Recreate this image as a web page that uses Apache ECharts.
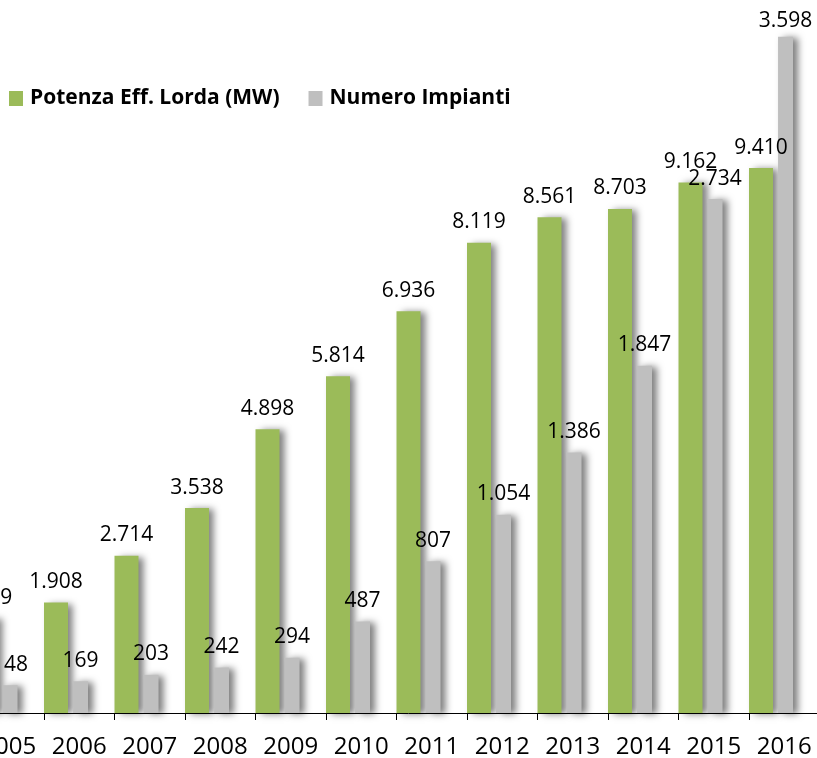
<!DOCTYPE html>
<html>
<head>
<meta charset="utf-8">
<script src="https://cdn.jsdelivr.net/npm/echarts@6/dist/echarts.min.js"></script>
<style>
  html, body { margin: 0; padding: 0; background: #fff; }
  #chart { width: 817px; height: 758px; }
</style>
</head>
<body>
<div id="chart"></div>
<script>
const years = ['2005', '2006', '2007', '2008', '2009', '2010', '2011', '2012', '2013', '2014', '2015', '2016']
const potenza = [1639, 1908, 2714, 3538, 4898, 5814, 6936, 8119, 8561, 8703, 9162, 9410]
const impianti = [148, 169, 203, 242, 294, 487, 807, 1054, 1386, 1847, 2734, 3598]
const seriesNames = ['Potenza Eff. Lorda (MW)', 'Numero Impianti']

const chart = echarts.init(document.getElementById('chart'))

// separatore delle migliaia con il punto
const fmt = (v) => String(v).replace(/\B(?=(\d{3})+(?!\d))/g, '.')

const labelStyle = {
  show: true,
  position: 'top',
  distance: 10,
  fontFamily: 'Open Sans',
  fontSize: 21,
  color: '#000',
  formatter: (p) => fmt(p.value)
}

const shadow = {
  shadowColor: 'rgba(0,0,0,0.5)',
  shadowBlur: 7,
  shadowOffsetX: 5,
  shadowOffsetY: 1
}

const option = {
  animation: false,
  backgroundColor: '#fff',
  textStyle: { fontFamily: 'Open Sans' },
  legend: {
    data: seriesNames,
    left: 4,
    top: 83,
    itemWidth: 14,
    itemHeight: 15,
    itemGap: 29,
    icon: 'rect',
    textStyle: {
      fontFamily: 'Open Sans',
      fontWeight: 'bold',
      fontSize: 21,
      color: '#000',
      padding: [0, 0, 0, 2]
    }
  },
  grid: { left: -26.5, right: -2.5, top: 0, bottom: 45, containLabel: false, outerBoundsMode: 'none' },
  xAxis: {
    type: 'category',
    data: years,
    axisLine: { lineStyle: { color: '#000', width: 1 } },
    axisTick: { show: true, length: 7, lineStyle: { color: '#000' } },
    axisLabel: { interval: 0, fontFamily: 'Open Sans', fontSize: 24, color: '#000', margin: 22 }
  },
  yAxis: [
    { type: 'value', min: 0, max: 12312, show: false, splitLine: { show: false } },
    { type: 'value', min: 0, max: 3793, show: false, splitLine: { show: false } }
  ],
  series: [
    {
      name: seriesNames[0],
      type: 'bar',
      yAxisIndex: 0,
      barWidth: 24,
      barGap: '21%',
      data: potenza,
      itemStyle: Object.assign({ color: '#9bbb59' }, shadow),
      label: labelStyle
    },
    {
      name: seriesNames[1],
      type: 'bar',
      yAxisIndex: 1,
      barWidth: 15,
      barGap: '21%',
      data: impianti.map((v, i) => i === impianti.length - 1 ? { value: v, label: { distance: 5 } } : v),
      itemStyle: Object.assign({ color: '#bfbfbf' }, shadow),
      label: labelStyle
    },
    {
      // colonna vuota per spostare il gruppo a sinistra
      name: 'spacer',
      type: 'bar',
      yAxisIndex: 0,
      barWidth: 23.3,
      barGap: '21%',
      silent: true,
      data: years.map(() => null)
    }
  ]
}

chart.setOption(option)
</script>
</body>
</html>
